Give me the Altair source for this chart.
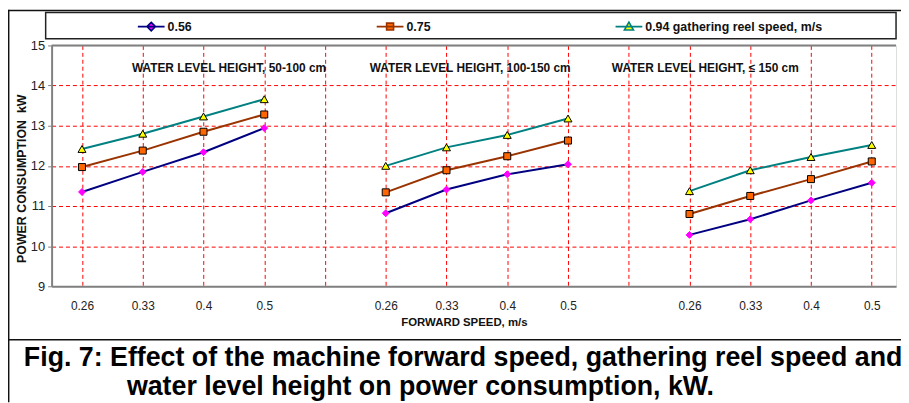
import altair as alt
import pandas as pd

# ---------------- data ----------------
speeds = ["0.26", "0.33", "0.4", "0.5"]
reel_speeds = ["0.56", "0.75", "0.94 gathering reel speed, m/s"]
panel_labels = ["WATER LEVEL HEIGHT, 50-100 cm",
                "WATER LEVEL HEIGHT, 100-150 cm",
                "WATER LEVEL HEIGHT, \u2264 150 cm"]
panel_start = [0, 5, 10]          # first category slot of each panel
panel_label_x = [2.92, 6.89, 10.76]
panel_label_y = [14.43, 14.43, 14.43]

p1_056 = [11.35, 11.85, 12.34, 12.94]
p1_075 = [11.97, 12.38, 12.85, 13.28]
p1_094 = [12.42, 12.80, 13.23, 13.66]
p2_056 = [10.82, 11.41, 11.79, 12.04]
p2_075 = [11.34, 11.89, 12.24, 12.63]
p2_094 = [12.00, 12.46, 12.77, 13.18]
p3_056 = [10.28, 10.67, 11.14, 11.58]
p3_075 = [10.80, 11.25, 11.67, 12.11]
p3_094 = [11.37, 11.89, 12.22, 12.52]

y_ticks = [9, 10, 11, 12, 13, 14, 15]
caption_1 = "Fig. 7: Effect of the machine forward speed, gathering reel speed and"
caption_2 = "water level height on power consumption, kW."

line_colors = ["#000080", "#993300", "#008080"]
marker_fill = ["#FF00FF", "#FF6600", "#FFFF00"]
marker_stroke = ["#FF00FF", "#000000", "#000000"]
marker_shape = ["diamond", "square", "triangle-up"]
marker_size = [48, 50, 64]
legend_paths = [
    "M-1,0H1M0,-0.32L0.32,0L0,0.32L-0.32,0Z",
    "M-1,0H1M-0.26,-0.26H0.26V0.26H-0.26Z",
    "M-1,0H1M0,-0.34L0.34,0.26H-0.34Z",
]

FONT = "Liberation Sans"

panels = [
    [p1_056, p1_075, p1_094],
    [p2_056, p2_075, p2_094],
    [p3_056, p3_075, p3_094],
]

rows = []
for p, series_vals in enumerate(panels):
    for s, vals in enumerate(series_vals):
        for i, v in enumerate(vals):
            rows.append({"panel": p, "series": reel_speeds[s],
                         "pos": panel_start[p] + i + 0.5, "value": v})
df = pd.DataFrame(rows)

lab_df = pd.DataFrame({"x": panel_label_x, "y": panel_label_y, "label": panel_labels})

# ---------------- scales / axes ----------------
n_slots = 14
tick_vals = [k * 0.5 for k in range(1, 2 * n_slots)]
slot_labels = speeds + [""]
label_expr = ("datum.value % 1 === 0 ? '' : "
              + "[" + ",".join("'" + t + "'" for t in slot_labels) + "][floor(datum.value) % 5]")

x_scale = alt.Scale(domain=[0, 13.9], nice=False, zero=False)
y_scale = alt.Scale(domain=[9, 15], nice=False, zero=False)

x_axis = alt.Axis(
    values=tick_vals, labelExpr=label_expr, labelOverlap=False, labelFlush=False,
    labelFont=FONT, labelFontSize=12, labelColor="#222222",
    labelPadding=9,
    grid=True,
    gridColor={"condition": {"test": "datum.value % 1 !== 0", "value": "#FF0000"},
               "value": "rgba(0,0,0,0)"},
    gridDash=[4, 3], gridWidth=1,
    tickColor="#333333", tickSize=5, tickWidth=1,
    tickOpacity={"condition": {"test": "datum.value % 1 === 0", "value": 1}, "value": 0},
    domainColor="#808080", domainWidth=2,
    title="FORWARD SPEED, m/s", titleFont=FONT, titleFontSize=11.5,
    titleFontWeight="bold", titleColor="#111111",
    titleX=416, titleY=37, titleAlign="center", titleBaseline="middle",
)
y_axis = alt.Axis(
    values=y_ticks, labelFont=FONT, labelFontSize=13,
    labelColor="#222222", labelPadding=3,
    grid=True,
    gridColor={"condition": {"test": "datum.value > 9 && datum.value < 15", "value": "#FF0000"},
               "value": "rgba(0,0,0,0)"},
    gridDash=[4, 3], gridWidth=1,
    tickColor="#808080", tickSize=4,
    domainColor="#808080", domainWidth=2,
    title="POWER CONSUMPTION\u00a0\u00a0kW", titleFont=FONT, titleFontSize=12.5,
    titleFontWeight="bold", titleColor="#111111",
    titleX=-30, titleY=134, titleAngle=270, titleAlign="center", titleBaseline="middle",
)

base = alt.Chart(df)
X = alt.X("pos:Q", scale=x_scale, axis=x_axis)
Y = alt.Y("value:Q", scale=y_scale, axis=y_axis)

layers = []
for s, name in enumerate(reel_speeds):
    layers.append(
        base.transform_filter(alt.datum.series == name)
        .mark_line(color=line_colors[s], strokeWidth=2)
        .encode(x=X, y=Y, detail="panel:N", order="pos:Q")
    )
for s, name in enumerate(reel_speeds):
    layers.append(
        base.transform_filter(alt.datum.series == name)
        .mark_point(shape=marker_shape[s], filled=True, fill=marker_fill[s],
                    stroke=marker_stroke[s], strokeWidth=1, size=marker_size[s], opacity=1)
        .encode(x=X, y=Y)
    )

legend = alt.Legend(
    title=None, orient="none", legendX=86, legendY=-33.5, direction="horizontal",
    columns=3, gridAlign="none", columnPadding=182, padding=0,
    symbolSize=729, symbolStrokeWidth=1.6, labelOffset=2,
    labelFont=FONT, labelFontSize=12.5, labelFontWeight="bold",
    labelColor="#111111", labelLimit=400,
)
legend_layer = (
    base.transform_filter("false")
    .mark_point(opacity=1, strokeWidth=2)
    .encode(
        x=alt.X("pos:Q", scale=x_scale),
        y=alt.Y("value:Q", scale=y_scale),
        shape=alt.Shape("series:N", scale=alt.Scale(domain=reel_speeds, range=legend_paths), legend=legend),
        fill=alt.Fill("series:N", scale=alt.Scale(domain=reel_speeds, range=marker_fill), legend=legend),
        stroke=alt.Stroke("series:N", scale=alt.Scale(domain=reel_speeds, range=line_colors), legend=legend),
    )
)

top_border = alt.Chart(pd.DataFrame({"v": [y_ticks[-1]]})).mark_rule(
    color="#808080", strokeWidth=2).encode(y=alt.Y("v:Q", scale=y_scale))

panel_text = alt.Chart(lab_df).mark_text(
    font=FONT, fontSize=12, fontWeight="bold", color="#111111",
    align="center", baseline="middle",
).encode(x=alt.X("x:Q", scale=x_scale), y=alt.Y("y:Q", scale=y_scale), text="label:N")

one = pd.DataFrame({"a": [0]})
deco = [
    # legend frame
    alt.Chart(one).mark_rect(fillOpacity=0, stroke="#222222", strokeWidth=1.5).encode(
        x=alt.value(-6), x2=alt.value(852), y=alt.value(-33.3), y2=alt.value(-6.7)),
    # outer frame top & left
    alt.Chart(one).mark_rule(color="#111111", strokeWidth=1.5).encode(
        x=alt.value(-43.5), x2=alt.value(860), y=alt.value(-35.3)),
    alt.Chart(one).mark_rule(color="#111111", strokeWidth=1.5).encode(
        x=alt.value(-43.3), y=alt.value(-36), y2=alt.value(360)),
    # separator above caption
    alt.Chart(one).mark_rule(color="#111111", strokeWidth=1.5).encode(
        x=alt.value(-44), x2=alt.value(860), y=alt.value(297)),
    alt.Chart(one).mark_text(font=FONT, fontSize=27, fontWeight="bold",
                             color="#000000", align="left", baseline="alphabetic").encode(
        x=alt.value(-28), y=alt.value(323), text=alt.value(caption_1)),
    alt.Chart(one).mark_text(font=FONT, fontSize=27, fontWeight="bold",
                             color="#000000", align="left", baseline="alphabetic").encode(
        x=alt.value(76), y=alt.value(353), text=alt.value(caption_2)),
]

chart = alt.layer(top_border, *layers, legend_layer, panel_text, *deco).properties(
    width=852, height=243,
    padding={"left": 44, "top": 36, "right": 5, "bottom": 116},
    autosize=alt.AutoSizeParams(type="none"),
).configure_view(stroke="transparent").configure(background="white")

chart.save("out.html", embed_options={"renderer": "svg", "actions": False})
